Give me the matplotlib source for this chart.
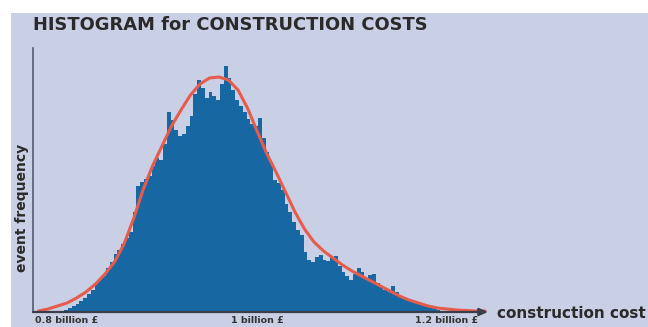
import numpy as np
import matplotlib
matplotlib.use("Agg")
import matplotlib.pyplot as plt

# ---- data ----
title = "HISTOGRAM for CONSTRUCTION COSTS"
x_label = "construction cost"
y_label = "event frequency"
tick_values = [0.8, 1.0, 1.2]
tick_labels = ["0.8 billion £", "1 billion £", "1.2 billion £"]

bin_start = 0.793
bin_width = 0.004
counts = [1, 2, 4, 6, 8, 11, 14, 18, 22, 28,
          33, 36, 44, 50, 58, 62, 68, 74, 80, 100,
          126, 130, 133, 136, 146, 154, 152, 168, 200, 192,
          182, 176, 178, 186, 196, 218, 232, 224, 214, 220,
          216, 212, 228, 246, 234, 222, 212, 206, 200, 193,
          188, 186, 194, 174, 160, 150, 132, 129, 122, 108,
          100, 90, 82, 77, 60, 52, 50, 55, 57, 52,
          51, 55, 56, 46, 40, 36, 32, 38, 44, 40,
          33, 37, 38, 29, 26, 22, 22, 26, 20, 16,
          14, 12, 11, 10, 8, 7, 6, 5, 4, 2]

curve_x = [0.77, 0.78, 0.79, 0.80, 0.81, 0.82, 0.83, 0.84, 0.85, 0.86,
           0.87, 0.88, 0.89, 0.90, 0.91, 0.92, 0.93, 0.94, 0.95, 0.96,
           0.97, 0.98, 0.99, 1.00, 1.01, 1.02, 1.03, 1.04, 1.05, 1.06,
           1.07, 1.08, 1.09, 1.10, 1.11, 1.12, 1.13, 1.14, 1.15, 1.16,
           1.17, 1.18, 1.19, 1.20, 1.21, 1.22, 1.23, 1.24]
curve_y = [1, 3, 6, 9, 14, 20, 28, 38, 50, 68,
           93, 122, 146, 166, 186, 202, 217, 228, 234, 235,
           232, 222, 204, 181, 159, 140, 120, 100, 83, 70,
           61, 54, 47, 41, 36, 31, 26, 21, 16, 12,
           9, 6, 4, 3, 2, 1.5, 1, 1]

# ---- figure ----
W, H = 648, 327
fig = plt.figure(figsize=(W / 100, H / 100), dpi=100)
fig.patch.set_facecolor("white")
bg = "#c9cfe4"

# lavender panel (white strip at top and left, as in the reference)
bgax = fig.add_axes([11 / W, 0, 1 - 11 / W, (H - 13) / H], zorder=0)
bgax.set_facecolor(bg)
bgax.set_xticks([])
bgax.set_yticks([])
for s in bgax.spines.values():
    s.set_visible(False)

ax_l, ax_r, ax_t, ax_b = 33, 488, 48, 312
ax = fig.add_axes([ax_l / W, (H - ax_b) / H, (ax_r - ax_l) / W, (ax_b - ax_t) / H],
                  zorder=1)
ax.set_facecolor("none")

edges = bin_start + bin_width * np.arange(len(counts) + 1)
ax.stairs(counts, edges, fill=True, color="#1767a3", zorder=2)
ax.plot(curve_x, curve_y, color="#e65c4c", lw=2.2, zorder=3, solid_capstyle="round")

x0 = 0.8 + (ax_l - 67) / 950
x1 = 0.8 + (ax_r - 67) / 950
ax.set_xlim(x0, x1)
ax.set_ylim(0, ax_b - ax_t)

for s in ["top", "right", "bottom"]:
    ax.spines[s].set_visible(False)
ax.spines["left"].set_color("#555a6e")
ax.spines["left"].set_linewidth(1.2)
ax.set_yticks([])
ax.set_xticks(tick_values)
ax.set_xticklabels(tick_labels, fontsize=6.8, fontweight="bold", color="#333333",
                   family="DejaVu Sans")
ax.tick_params(axis="x", length=0, pad=3.2)

ax.annotate("", xy=(1.0, 0), xytext=(0, 0), xycoords="axes fraction",
            arrowprops=dict(arrowstyle="-|>,head_length=0.5,head_width=0.22",
                            color="#3a3d4a", lw=1.6, shrinkA=0, shrinkB=0),
            annotation_clip=False, zorder=4)

fig.text(497 / W, 1 - 313 / H, x_label, fontsize=11, fontweight="bold",
         color="#2a2a2a", family="DejaVu Sans", va="center", ha="left")
fig.text(22 / W, 1 - 208 / H, y_label, fontsize=10, fontweight="bold",
         color="#2a2a2a", family="DejaVu Sans", va="center", ha="center",
         rotation=90)
fig.text(33 / W, 1 - 25 / H, title, fontsize=12.9, fontweight="bold",
         color="#2a2a2a", family="DejaVu Sans", va="center", ha="left")

fig.savefig("out.png", dpi=100)
